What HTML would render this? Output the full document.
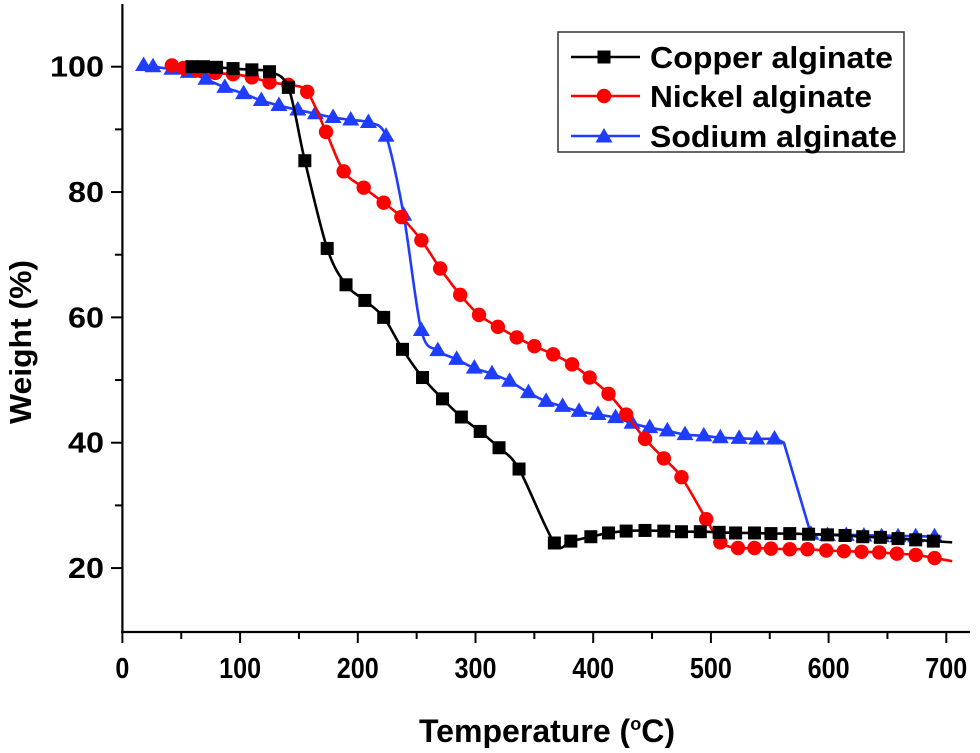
<!DOCTYPE html>
<html><head><meta charset="utf-8"><style>
html,body{margin:0;padding:0;background:#fff;}
svg text{font-family:"Liberation Sans",Arial,sans-serif;font-weight:bold;fill:#000;}
</style></head><body>
<svg id="chart" width="980" height="748" viewBox="0 0 980 748" xmlns="http://www.w3.org/2000/svg">
<g id="axes"></g>
<g id="series"></g>
<g id="legend"></g>
</svg>
<script>
const xTicks=[0,100,200,300,400,500,600,700];
const xMinor=[50,150,250,350,450,550,650];
const yTicks=[20,40,60,80,100];
const yMinor=[30,50,70,90];
const copperT=[59,69,80,94,110,125,141,155,174,190,206,222,238,255,272,288,304,320,337,367,381,398,413,428,444,460,475,491,507,521,537,551,567,583,599,614,629,644,659,674,689];
const copperW=[100,100,99.9,99.7,99.5,99.2,96.7,85,71,65.2,62.7,60,54.9,50.4,47,44.1,41.8,39.2,35.8,24,24.3,25,25.6,25.9,26,25.9,25.8,25.8,25.7,25.6,25.6,25.5,25.5,25.4,25.3,25.2,25,24.9,24.7,24.5,24.3];
const nickelT=[42,52,64,79,94,110,125,141,157,173,188,205,222,237,254,270,287,303,319,335,350,366,382,397,413,428,444,460,475,496,508,523,537,551,567,582,598,613,628,643,658,674,690];
const nickelW=[100.2,99.8,99.4,99,98.8,98.3,97.5,97.1,96,89.6,83.3,80.7,78.3,76,72.3,67.8,63.6,60.4,58.5,56.8,55.4,54.1,52.5,50.4,47.8,44.5,40.6,37.5,34.5,27.8,24.1,23.2,23.2,23.1,23,23,22.8,22.7,22.6,22.5,22.3,22.1,21.6];
const sodiumT=[18,26,42,56,71,87,103,118,133,149,164,179,194,209,224,239,254,268,284,299,314,329,345,360,374,388,404,419,433,448,463,478,494,508,524,539,554,585,599,615,630,645,659,674,690];
const sodiumW=[100.2,100,99.6,99.1,98,96.7,95.7,94.6,93.8,93.1,92.5,91.9,91.5,91.1,88.9,76.3,57.9,54.7,53.3,51.9,51,49.8,48,46.6,45.8,45,44.5,44,43.1,42.4,41.9,41.3,41.1,40.8,40.7,40.6,40.6,25.4,25.2,25.2,25.1,25,25,25,25];
const seriesNames=["Copper alginate","Nickel alginate","Sodium alginate"];

const NS="http://www.w3.org/2000/svg";
function X(t){return 122.4+t*1.177;}
function Y(w){return 66.7+(100-w)*6.267;}
function mk(tag,attrs,parent){const e=document.createElementNS(NS,tag);for(const k in attrs)e.setAttribute(k,attrs[k]);parent.appendChild(e);return e;}
const axes=document.getElementById('axes');
const ser=document.getElementById('series');
const leg=document.getElementById('legend');

let a=mk('line',{x1:122.4,y1:4,x2:122.4,y2:632,stroke:'#000','stroke-width':2.2},axes);

a=mk('line',{x1:121,y1:632,x2:970,y2:632,stroke:'#000','stroke-width':2.2},axes);

xTicks.forEach(t=>{
  const l=mk('line',{x1:X(t),y1:632,x2:X(t),y2:643,stroke:'#000','stroke-width':2},axes);
  
  const s=String(t);
  const tx=mk('text',{x:X(t),y:678,'text-anchor':'middle','font-size':29,textLength:s.length*14,lengthAdjust:'spacingAndGlyphs'},axes);
  tx.textContent=t;
  
});
xMinor.forEach(t=>{
  const l=mk('line',{x1:X(t),y1:632,x2:X(t),y2:639,stroke:'#000','stroke-width':2},axes);
  
});
yTicks.forEach(w=>{
  const l=mk('line',{x1:111,y1:Y(w),x2:122.4,y2:Y(w),stroke:'#000','stroke-width':2},axes);
  
  const s=String(w);
  const tx=mk('text',{x:104,y:Y(w)+10,'text-anchor':'end','font-size':29,textLength:s.length*18,lengthAdjust:'spacingAndGlyphs'},axes);
  tx.textContent=w;
  
});
yMinor.forEach(w=>{
  const l=mk('line',{x1:115,y1:Y(w),x2:122.4,y2:Y(w),stroke:'#000','stroke-width':2},axes);
  
});
let t=mk('text',{x:547,y:742,'text-anchor':'middle','font-size':32,textLength:256,lengthAdjust:'spacingAndGlyphs'},axes);
t.innerHTML='Temperature (<tspan dy="-12" font-size="18">o</tspan><tspan dy="12">C)</tspan>';

t=mk('text',{x:0,y:0,'text-anchor':'middle','font-size':31,transform:'translate(31,342) rotate(-90)',textLength:164,lengthAdjust:'spacingAndGlyphs'},axes);
t.textContent='Weight (%)';


function pathD(ts,ws){
  const p=ts.map((v,i)=>[X(v),Y(ws[i])]);
  let d='M'+p[0][0]+','+p[0][1];
  for(let i=0;i<p.length-1;i++){
    const p0=p[i-1]||p[i],p1=p[i],p2=p[i+1],p3=p[i+2]||p[i+1];
    const k=0.16;
    d+=' C'+(p1[0]+(p2[0]-p0[0])*k)+','+(p1[1]+(p2[1]-p0[1])*k)+' '+(p2[0]-(p3[0]-p1[0])*k)+','+(p2[1]-(p3[1]-p1[1])*k)+' '+p2[0]+','+p2[1];
  }
  return d;
}
function marker(type,cx,cy,color,parent){
  let m;
  if(type==='sq') m=mk('rect',{x:cx-6.5,y:cy-6.5,width:13,height:13,fill:color},parent);
  else if(type==='ci') m=mk('circle',{cx:cx,cy:cy,r:7.2,fill:color},parent);
  else m=mk('polygon',{points:(cx)+','+(cy-9)+' '+(cx-8.5)+','+(cy+5.5)+' '+(cx+8.5)+','+(cy+5.5),fill:color},parent);
  return m;
}
const defs=[
 {name:'copper',T:copperT,W:copperW,c:'#000',m:'sq',end:[705,24.1]},
 {name:'nickel',T:nickelT,W:nickelW,c:'#ff0000',m:'ci',end:[705,21.1]},
 {name:'sodium',T:sodiumT,W:sodiumW,c:'#1f3dff',m:'tr',end:[696,25]}
];
[defs[2],defs[1],defs[0]].forEach(s=>{
  const g=mk('g',{},ser);
  
  let ts=s.T.slice(),ws=s.W.slice();
  if(s.name==='sodium'){const i=ts.indexOf(585);ts.splice(i,0,562);ws.splice(i,0,40.0);}
  ts.push(s.end[0]);ws.push(s.end[1]);
  let d;
  if(s.name==='sodium'){
    const i=ts.indexOf(562);
    d=pathD(ts.slice(0,i+1),ws.slice(0,i+1))+' L'+X(ts[i+1])+','+Y(ws[i+1])+' L'+X(ts[ts.length-1])+','+Y(ws[ws.length-1]);
  } else d=pathD(ts,ws);
  const p=mk('path',{d:d,fill:'none',stroke:s.c,'stroke-width':2.6},g);
  
  s.T.forEach((v,i)=>{
    const m=marker(s.m,X(v),Y(s.W[i]),s.c,g);
    
  });
});

const box=mk('rect',{x:558,y:32,width:346,height:120,fill:'#fff',stroke:'#333','stroke-width':1.5},leg);

const rows=[57,96,136];
defs.forEach((s,i)=>{
  const g=mk('g',{},leg);
  
  mk('line',{x1:571,y1:rows[i],x2:640,y2:rows[i],stroke:s.c,'stroke-width':2.6},g);
  marker(s.m,604,rows[i]+(s.m==='tr'?1:0),s.c,g);
  const tx=mk('text',{x:650,y:rows[i]+11,'font-size':31,textLength:[243,222,247][i],lengthAdjust:'spacingAndGlyphs'},g);
  tx.textContent=seriesNames[i];
  
});
</script>
</body></html>
